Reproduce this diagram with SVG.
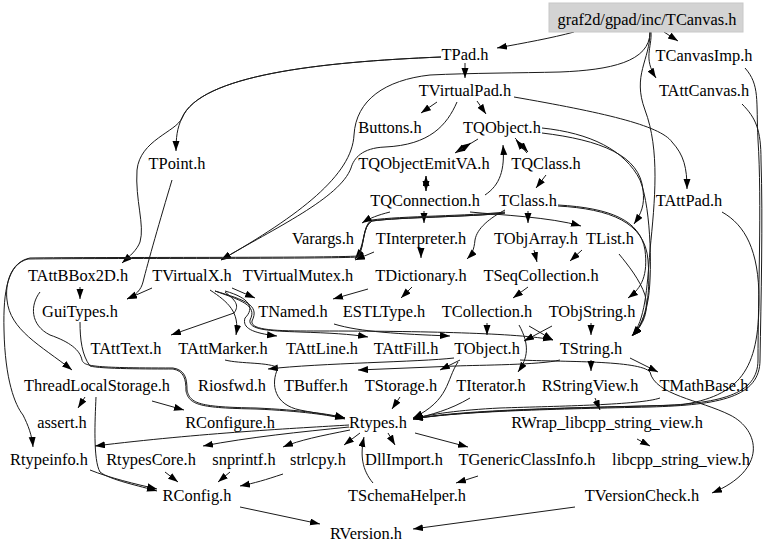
<svg xmlns="http://www.w3.org/2000/svg" width="768" height="553" viewBox="0 0 768 553">
<style>
text{font-family:"Liberation Serif","Times New Roman",serif;font-size:16.4px;fill:#000;text-anchor:middle}
.e path{fill:none;stroke:#1a1a1a;stroke-width:1;marker-end:url(#ah)}
</style>
<defs>
<marker id="ah" markerUnits="userSpaceOnUse" markerWidth="10" markerHeight="8" refX="10" refY="3.5" orient="auto">
<path d="M0,0 L10,3.5 L0,7 z" fill="#000"/>
</marker>
</defs>
<rect width="768" height="553" fill="#fff"/>
<g class="e" id="connectors">
<path d="M574,32 C552,38 524,43 497,48"/>
<path d="M664,32 L678,41"/>
<path d="M651,32 C652,48 643,58 656,78"/>
<path d="M650,32 C650,62 610,70 560,72 C520,73 470,73 430,75 C385,80 356,100 354,135 C352,175 300,215 221,260"/>
<path d="M650,32 C650,60 632,75 645,110 C660,150 655,200 650,250 C647,290 645,320 632,336"/>
<path d="M745,68 C760,85 756,100 758,140 C762,200 758,300 758,360 C758,395 720,404 650,406 C560,408 460,410 413,419"/>
<path d="M742,104 C756,118 761,130 761,160 C763,220 761,300 760,360 C760,397 720,405 650,407 C560,409 460,411 413,419"/>
<path d="M465,63 L465,78"/>
<path d="M441,57 C320,62 200,75 182,118 C177,128 176,138 176,151"/>
<path d="M441,57 C320,62 200,75 182,118 C176,132 140,140 137,170 C135,200 145,225 140,242 C137,250 130,256 122,263"/>
<path d="M437,102 L421,113"/>
<path d="M477,101 L486,114"/>
<path d="M457,102 C447,125 430,145 385,147 C362,148 354,158 351,168 C340,198 275,228 221,260"/>
<path d="M514,97 C600,112 660,125 672,142 C684,155 687,168 687,189"/>
<path d="M478,139 L455,153"/>
<path d="M457,152 L471,143"/>
<path d="M515,138 L528,152"/>
<path d="M527,153 L516,140"/>
<path d="M542,133 C600,140 640,155 643,190 C645,205 641,214 634,224"/>
<path d="M542,128 C590,133 625,150 640,180 C652,210 652,280 648,300 C645,318 640,328 632,336"/>
<path d="M426,176 L426,191"/>
<path d="M426,191 L426,176"/>
<path d="M485,195 C500,185 505,170 503,145"/>
<path d="M546,175 L536,188"/>
<path d="M390,212 C378,215 370,218 362,223"/>
<path d="M424,211 L424,223"/>
<path d="M470,212 C500,215 550,217 581,226"/>
<path d="M528,211 L528,223"/>
<path d="M505,210 C490,218 477,228 475,240 C474,250 472,254 467,259"/>
<path d="M505,212 C470,216 400,216 372,220 C362,225 366,245 355,259"/>
<path d="M505,213 C470,217 400,217 372,221 C362,226 365,246 358,256 C330,258 100,257 30,258 C10,262 5,285 7,300 C10,330 40,345 72,370"/>
<path d="M505,213 C470,217 400,217 372,221 C362,226 365,246 358,257 C330,259 100,258 28,259 C8,264 3,290 4,330 C5,380 15,405 23,415 C28,425 32,435 33,447"/>
<path d="M558,205 C610,208 640,220 645,250 C648,275 642,288 628,298"/>
<path d="M558,206 C610,209 645,222 648,260 C651,300 645,322 632,336"/>
<path d="M421,248 L421,258"/>
<path d="M374,252 L355,260"/>
<path d="M534,250 L537,262"/>
<path d="M582,250 L570,261"/>
<path d="M619,254 C628,265 640,280 645,295 C650,315 640,328 632,336"/>
<path d="M80,287 L80,299"/>
<path d="M40,292 C30,305 30,325 50,335 C70,342 80,350 82,360 C84,366 90,368 173,368 C185,370 187,378 187,390 C190,404 200,407 256,408 C300,410 330,414 345,418"/>
<path d="M80,322 C80,340 82,355 90,366 C100,369 150,369 173,369 C184,371 186,379 186,391 C189,405 200,408 256,409 C300,411 330,415 345,419"/>
<path d="M172,180 C160,220 148,262 143,282 C141,290 136,295 127,299"/>
<path d="M152,288 L127,299"/>
<path d="M232,288 L255,298"/>
<path d="M210,290 C228,302 240,312 236,335"/>
<path d="M225,292 C235,300 240,305 234,313 L171,335"/>
<path d="M225,291 C250,298 255,308 245,318 C242,328 252,333 277,336"/>
<path d="M215,291 C240,300 258,305 250,320 C248,330 270,331 300,332 C330,333 350,334 368,337"/>
<path d="M215,291 C245,300 260,305 252,321 C250,331 280,331 320,331 C420,331 520,333 553,340"/>
<path d="M334,324 C360,332 400,334 450,336"/>
<path d="M368,289 L333,299"/>
<path d="M412,287 L401,298"/>
<path d="M528,287 L513,298"/>
<path d="M487,323 L487,335"/>
<path d="M519,325 C530,345 528,358 518,372"/>
<path d="M529,326 L553,340"/>
<path d="M552,326 L524,341"/>
<path d="M591,323 L591,335"/>
<path d="M454,358 C420,362 320,363 268,369"/>
<path d="M560,360 C540,365 480,365 456,366 L358,370"/>
<path d="M460,360 L440,370"/>
<path d="M520,360 C560,362 640,360 650,372 C655,395 700,400 730,415 C760,430 768,470 712,493"/>
<path d="M458,362 C446,380 450,400 413,418"/>
<path d="M630,358 L658,372"/>
<path d="M591,360 L591,371"/>
<path d="M470,398 C450,410 430,415 413,419"/>
<path d="M400,397 L392,409"/>
<path d="M660,398 C640,405 560,406 500,408 C460,410 430,414 413,419"/>
<path d="M595,398 L600,410"/>
<path d="M85,397 L78,408"/>
<path d="M152,401 L184,410"/>
<path d="M96,397 C95,420 93,460 100,472 C110,480 140,486 157,491"/>
<path d="M90,470 C110,478 135,484 157,489"/>
<path d="M637,439 L650,446"/>
<path d="M349,425 C300,428 200,433 95,446"/>
<path d="M349,427 C300,432 250,437 203,446"/>
<path d="M350,430 C320,436 300,440 283,447"/>
<path d="M360,433 L344,445"/>
<path d="M388,433 L395,445"/>
<path d="M415,433 L468,447"/>
<path d="M373,483 C362,470 360,455 364,437"/>
<path d="M478,476 L456,483"/>
<path d="M165,472 L178,482"/>
<path d="M230,472 L218,482"/>
<path d="M283,474 C265,480 255,483 240,486"/>
<path d="M240,507 L320,524"/>
<path d="M575,507 L413,529"/>
<path d="M722,212 C745,225 759,250 759,300 C759,370 740,396 680,405 C560,408 460,411 413,419"/>
<path d="M225,360 C240,364 270,362 278,368 C270,385 275,405 300,410 C320,414 335,416 345,418"/>
</g>
<g id="n_TCanvas"><rect x="549" y="3" width="194" height="29" fill="#d3d3d3" stroke="#c8c8c8"/><text x="647" y="25">graf2d/gpad/inc/TCanvas.h</text></g>
<g id="n_TPad"><text x="465" y="60">TPad.h</text></g>
<g id="n_TCanvasImp"><text x="704" y="61">TCanvasImp.h</text></g>
<g id="n_TVirtualPad"><text x="465" y="96">TVirtualPad.h</text></g>
<g id="n_TAttCanvas"><text x="704" y="96">TAttCanvas.h</text></g>
<g id="n_Buttons"><text x="390" y="133">Buttons.h</text></g>
<g id="n_TQObject"><text x="502" y="133">TQObject.h</text></g>
<g id="n_TPoint"><text x="177" y="169">TPoint.h</text></g>
<g id="n_TQObjectEmitVA"><text x="424" y="169">TQObjectEmitVA.h</text></g>
<g id="n_TQClass"><text x="546" y="169">TQClass.h</text></g>
<g id="n_TQConnection"><text x="425" y="206">TQConnection.h</text></g>
<g id="n_TClass"><text x="528" y="206">TClass.h</text></g>
<g id="n_TAttPad"><text x="689" y="206">TAttPad.h</text></g>
<g id="n_Varargs"><text x="323" y="244">Varargs.h</text></g>
<g id="n_TInterpreter"><text x="421" y="244">TInterpreter.h</text></g>
<g id="n_TObjArray"><text x="536" y="244">TObjArray.h</text></g>
<g id="n_TList"><text x="610" y="244">TList.h</text></g>
<g id="n_TAttBBox2D"><text x="78" y="281">TAttBBox2D.h</text></g>
<g id="n_TVirtualX"><text x="192" y="281">TVirtualX.h</text></g>
<g id="n_TVirtualMutex"><text x="298" y="281">TVirtualMutex.h</text></g>
<g id="n_TDictionary"><text x="421" y="281">TDictionary.h</text></g>
<g id="n_TSeqCollection"><text x="541" y="281">TSeqCollection.h</text></g>
<g id="n_GuiTypes"><text x="80" y="317">GuiTypes.h</text></g>
<g id="n_TNamed"><text x="293" y="317">TNamed.h</text></g>
<g id="n_ESTLType"><text x="384" y="317">ESTLType.h</text></g>
<g id="n_TCollection"><text x="487" y="317">TCollection.h</text></g>
<g id="n_TObjString"><text x="592" y="317">TObjString.h</text></g>
<g id="n_TAttText"><text x="126" y="354">TAttText.h</text></g>
<g id="n_TAttMarker"><text x="223" y="354">TAttMarker.h</text></g>
<g id="n_TAttLine"><text x="322" y="354">TAttLine.h</text></g>
<g id="n_TAttFill"><text x="406" y="354">TAttFill.h</text></g>
<g id="n_TObject"><text x="487" y="354">TObject.h</text></g>
<g id="n_TString"><text x="591" y="354">TString.h</text></g>
<g id="n_ThreadLocalStorage"><text x="97" y="391">ThreadLocalStorage.h</text></g>
<g id="n_Riosfwd"><text x="232" y="391">Riosfwd.h</text></g>
<g id="n_TBuffer"><text x="316" y="391">TBuffer.h</text></g>
<g id="n_TStorage"><text x="401" y="391">TStorage.h</text></g>
<g id="n_TIterator"><text x="491" y="391">TIterator.h</text></g>
<g id="n_RStringView"><text x="590" y="391">RStringView.h</text></g>
<g id="n_TMathBase"><text x="704" y="391">TMathBase.h</text></g>
<g id="n_assert"><text x="62" y="428">assert.h</text></g>
<g id="n_RConfigure"><text x="230" y="428">RConfigure.h</text></g>
<g id="n_Rtypes"><text x="378" y="428">Rtypes.h</text></g>
<g id="n_RWrap"><text x="607" y="428">RWrap_libcpp_string_view.h</text></g>
<g id="n_Rtypeinfo"><text x="49" y="465">Rtypeinfo.h</text></g>
<g id="n_RtypesCore"><text x="151" y="465">RtypesCore.h</text></g>
<g id="n_snprintf"><text x="244" y="465">snprintf.h</text></g>
<g id="n_strlcpy"><text x="318" y="465">strlcpy.h</text></g>
<g id="n_DllImport"><text x="404" y="465">DllImport.h</text></g>
<g id="n_TGenericClassInfo"><text x="527" y="465">TGenericClassInfo.h</text></g>
<g id="n_libcpp"><text x="681" y="465">libcpp_string_view.h</text></g>
<g id="n_RConfig"><text x="197" y="501">RConfig.h</text></g>
<g id="n_TSchemaHelper"><text x="407" y="501">TSchemaHelper.h</text></g>
<g id="n_TVersionCheck"><text x="642" y="501">TVersionCheck.h</text></g>
<g id="n_RVersion"><text x="366" y="539">RVersion.h</text></g>
</svg>
